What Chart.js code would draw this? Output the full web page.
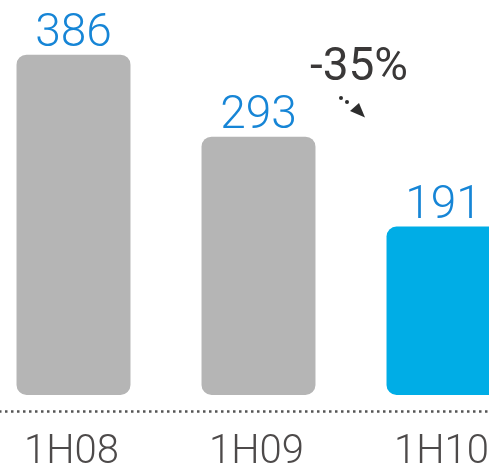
<!DOCTYPE html>
<html>
<head>
<meta charset="utf-8">
<script src="https://cdn.jsdelivr.net/npm/chart.js@4.4.0/dist/chart.umd.min.js"></script>
<style>
  html, body { margin: 0; padding: 0; width: 489px; height: 468px; overflow: hidden; background: #fff; }
  #wrap { position: absolute; left: -19px; top: 0; width: 555px; height: 468px; }
</style>
</head>
<body>
<div id="wrap"><canvas id="c"></canvas></div>
<script>
const categories = ['1H08', '1H09', '1H10'];
const values = [386, 293, 191];
const barColors = ['#b5b5b5', '#b5b5b5', '#00ade6'];
const changeLabel = '-35%';

const FONT = 'Roboto, "Liberation Sans", sans-serif';

const overlay = {
  id: 'overlay',
  afterDatasetsDraw(chart) {
    const ctx = chart.ctx;
    const xs = chart.scales.x;
    const ys = chart.scales.y;
    const meta = chart.getDatasetMeta(0);
    ctx.save();
    // value labels
    ctx.font = '300 46px ' + FONT;
    ctx.fillStyle = '#1685d6';
    ctx.textAlign = 'center';
    ctx.textBaseline = 'alphabetic';
    meta.data.forEach((bar, i) => {
      ctx.fillText(String(values[i]), bar.x, bar.y - 9);
    });
    // dotted baseline
    const lineY = ys.getPixelForValue(0) + 16.5;
    ctx.strokeStyle = '#555555';
    ctx.lineWidth = 2.5;
    ctx.setLineDash([2.5, 3.5]);
    ctx.beginPath();
    ctx.moveTo(0, lineY);
    ctx.lineTo(chart.width, lineY);
    ctx.stroke();
    ctx.setLineDash([]);
    // category labels
    ctx.font = '300 40px ' + FONT;
    ctx.fillStyle = '#4d4a4a';
    categories.forEach((c, i) => {
      ctx.fillText(c, xs.getPixelForValue(i) - 2, 463);
    });
    // change annotation between 2nd and 3rd bars
    const mid = (meta.data[1].x + meta.data[2].x) / 2;
    ctx.font = '400 46px ' + FONT;
    ctx.fillStyle = '#3a3838';
    ctx.fillText(changeLabel, mid + 8, 80);
    // dotted arrow
    ctx.fillStyle = '#2d2d2d';
    const ax = mid - 10, ay = 98;
    [[0,0],[6,4]].forEach(([dx,dy]) => {
      ctx.beginPath();
      ctx.arc(ax + dx, ay + dy, 2, 0, Math.PI * 2);
      ctx.fill();
    });
    ctx.beginPath();
    ctx.moveTo(ax + 24, ay + 19.5);
    ctx.lineTo(ax + 9, ay + 13);
    ctx.lineTo(ax + 18, ay + 5);
    ctx.closePath();
    ctx.fill();
    ctx.restore();
  }
};

new Chart(document.getElementById('c'), {
  type: 'bar',
  data: {
    labels: categories,
    datasets: [{
      data: values,
      backgroundColor: barColors,
      borderRadius: 10,
      borderSkipped: false,
      categoryPercentage: 1,
      barPercentage: 0.616
    }]
  },
  options: {
    responsive: true,
    maintainAspectRatio: false,
    animation: false,
    layout: { padding: { top: 0, bottom: 73, left: 0, right: 0 } },
    plugins: { legend: { display: false }, tooltip: { enabled: false } },
    scales: {
      x: { display: false },
      y: { display: false, min: 0, max: 448 }
    }
  },
  plugins: [overlay]
});
</script>
</body>
</html>
